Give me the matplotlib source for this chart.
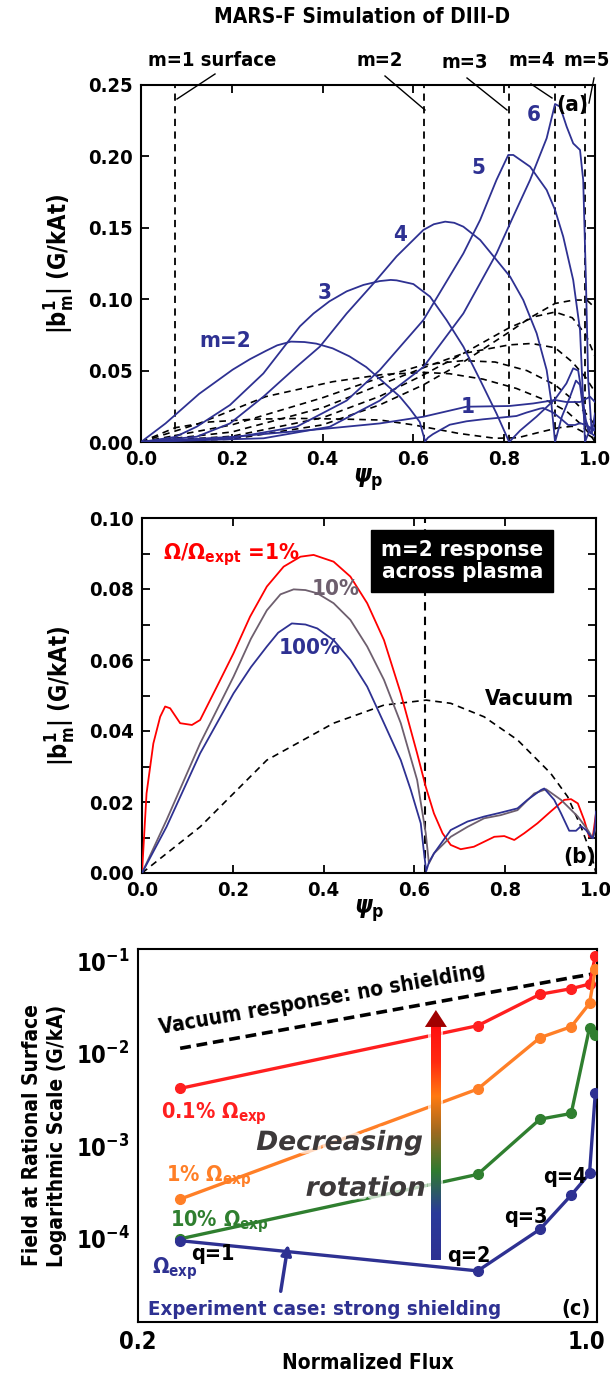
import numpy as np
import matplotlib
matplotlib.use('Agg')
import matplotlib.pyplot as plt
import matplotlib.patheffects as pe
from matplotlib.lines import Line2D
from matplotlib.colors import LinearSegmentedColormap
from matplotlib.transforms import ScaledTranslation

plt.rcParams['font.family'] = ['DejaVu Sans']
plt.rcParams['font.stretch'] = 'condensed'
plt.rcParams['font.weight'] = 'bold'
plt.rcParams['axes.labelweight'] = 'bold'
plt.rcParams['mathtext.fontset'] = 'custom'
plt.rcParams['mathtext.rm'] = 'DejaVu Sans:weight=bold:stretch=condensed'
plt.rcParams['mathtext.it'] = 'DejaVu Sans:style=italic:weight=bold:stretch=condensed'
plt.rcParams['mathtext.bf'] = 'DejaVu Sans:weight=bold:stretch=condensed'
plt.rcParams['axes.linewidth'] = 1.5

# ---------------- data: panel (a), plasma response per m (blue) ----------------
m1_x = [0, 0.196, 0.416, 0.526, 0.622, 0.717, 0.811, 0.864, 0.912, 0.937, 0.967, 0.989, 1.0]
m1_y = [0, 0.0035, 0.0096, 0.013, 0.0177, 0.0247, 0.0252, 0.027, 0.0294, 0.028, 0.028, 0.0317, 0.028]

m3_x = [0, 0.075, 0.1226, 0.196, 0.2695, 0.3208, 0.35, 0.38, 0.415, 0.453, 0.49, 0.526, 0.55, 0.563,
        0.6, 0.6366, 0.673, 0.71, 0.747, 0.783, 0.811, 0.835, 0.871, 0.912, 0.937, 0.952, 0.963,
        0.97, 0.98, 0.99, 1.0]
m3_y = [0, 0.0035, 0.0107, 0.0259, 0.048, 0.069, 0.081, 0.090, 0.0985, 0.1055, 0.110, 0.1127,
        0.1135, 0.1132, 0.1106, 0.1018, 0.0854, 0.0668, 0.0434, 0.020, 0, 0.008, 0.0177, 0.030,
        0.041, 0.0516, 0.050, 0.036, 0.015, 0.006, 0.010]

m4_x = [0, 0.1226, 0.196, 0.2695, 0.343, 0.394, 0.453, 0.512, 0.563, 0.622, 0.645, 0.67, 0.69, 0.71,
        0.747, 0.783, 0.813, 0.842, 0.8715, 0.8935, 0.903, 0.912, 0.927, 0.945, 0.958, 0.967, 0.975,
        0.985, 1.0]
m4_y = [0, 0.0037, 0.013, 0.0317, 0.0528, 0.0668, 0.090, 0.111, 0.130, 0.1485, 0.1525, 0.1543,
        0.1535, 0.1508, 0.1415, 0.1275, 0.1158, 0.0994, 0.0761, 0.0504, 0.030, 0, 0.0177, 0.0317,
        0.043, 0.040, 0.020, 0.008, 0.004]

m5_x = [0, 0.196, 0.343, 0.453, 0.526, 0.622, 0.71, 0.747, 0.783, 0.809, 0.82, 0.857, 0.8935,
        0.912, 0.93, 0.952, 0.967, 0.978, 0.99, 1.0]
m5_y = [0, 0.0026, 0.0107, 0.029, 0.0504, 0.0854, 0.132, 0.1555, 0.1835, 0.201, 0.201, 0.1928,
        0.1765, 0.1625, 0.1438, 0.1134, 0.0784, 0, 0.010, 0.008]

m6_x = [0, 0.27, 0.416, 0.526, 0.622, 0.71, 0.783, 0.82, 0.857, 0.8935, 0.912, 0.923, 0.9376,
        0.952, 0.967, 0.974, 0.98, 0.985, 0.993, 1.0]
m6_y = [0, 0.0026, 0.0107, 0.029, 0.0525, 0.090, 0.132, 0.158, 0.1835, 0.2127, 0.2367, 0.2348,
        0.2208, 0.2091, 0.2045, 0.1835, 0.1134, 0.0434, 0.006, 0.020]

# panel (a), vacuum field per m (black dashed)
v1_x = [0, 0.075, 0.15, 0.25, 0.35, 0.45, 0.526, 0.6, 0.7, 0.78, 0.83, 0.88, 0.92, 0.95, 0.98, 1.0]
v1_y = [0, 0.010, 0.014, 0.016, 0.0165, 0.016, 0.0154, 0.012, 0.006, 0.0026, 0.003, 0.007, 0.010,
        0.011, 0.006, 0.002]
v3_x = [0, 0.2, 0.4, 0.526, 0.622, 0.71, 0.78, 0.85, 0.912, 0.95, 0.98, 1.0]
v3_y = [0, 0.012, 0.031, 0.045, 0.054, 0.057, 0.056, 0.050, 0.040, 0.030, 0.020, 0.012]
v4_x = [0, 0.2, 0.4, 0.526, 0.622, 0.71, 0.811, 0.86, 0.912, 0.95, 0.98, 1.0]
v4_y = [0, 0.007, 0.024, 0.040, 0.052, 0.062, 0.068, 0.069, 0.066, 0.056, 0.045, 0.035]
v5_x = [0, 0.2, 0.4, 0.526, 0.622, 0.71, 0.811, 0.87, 0.912, 0.95, 0.98, 1.0]
v5_y = [0, 0.004, 0.017, 0.032, 0.047, 0.062, 0.080, 0.088, 0.091, 0.087, 0.075, 0.060]
v6_x = [0, 0.2, 0.4, 0.526, 0.622, 0.71, 0.811, 0.857, 0.912, 0.953, 0.982, 1.0]
v6_y = [0, 0.002, 0.012, 0.026, 0.040, 0.056, 0.077, 0.087, 0.097, 0.0994, 0.0994, 0.094]

# rational surfaces
surf_psi = [0.075, 0.624, 0.811, 0.912, 0.979]
surf_lbl = ['m=1 surface', 'm=2', 'm=3', 'm=4', 'm=5']

# ---------------- data: panel (b), m=2 response vs rotation ----------------
b100_x = [0, 0.054, 0.128, 0.2016, 0.24, 0.275, 0.30, 0.33, 0.36, 0.386, 0.422, 0.459, 0.496, 0.533,
          0.57, 0.592, 0.614, 0.62, 0.626, 0.632, 0.643, 0.68, 0.717, 0.7535, 0.79, 0.827, 0.849,
          0.879, 0.886, 0.908, 0.923, 0.941, 0.956, 0.967, 0.978, 0.989, 0.993, 0.998, 1.0]
b100_y = [0, 0.013, 0.0337, 0.0506, 0.058, 0.0638, 0.0677, 0.0703, 0.070, 0.0689, 0.0656, 0.060,
          0.0525, 0.0422, 0.0318, 0.0234, 0.014, 0.007, 0.0005, 0.003, 0.0055, 0.0121, 0.0145,
          0.0159, 0.017, 0.0182, 0.0206, 0.0234, 0.0238, 0.0206, 0.0168, 0.0119, 0.0119, 0.0132,
          0.0121, 0.0102, 0.0098, 0.013, 0.0173]

b10_x = [0, 0.054, 0.128, 0.2016, 0.24, 0.275, 0.305, 0.334, 0.36, 0.386, 0.422, 0.459, 0.496,
         0.533, 0.57, 0.606, 0.625, 0.632, 0.643, 0.68, 0.717, 0.7535, 0.79, 0.827, 0.864, 0.89,
         0.923, 0.96, 0.982, 0.993, 1.0]
b10_y = [0, 0.0149, 0.0365, 0.0553, 0.066, 0.074, 0.0785, 0.0799, 0.0797, 0.0788, 0.076, 0.0713,
         0.0638, 0.0544, 0.0422, 0.0262, 0.0112, 0.0027, 0.0055, 0.0102, 0.013, 0.0154, 0.0163,
         0.0177, 0.0224, 0.0236, 0.0206, 0.0159, 0.0121, 0.0098, 0.013]

b1_x = [0, 0.01, 0.025, 0.04, 0.051, 0.062, 0.084, 0.11, 0.128, 0.165, 0.2016, 0.238, 0.275, 0.312,
        0.349, 0.378, 0.422, 0.459, 0.496, 0.533, 0.57, 0.606, 0.625, 0.643, 0.662, 0.68, 0.702,
        0.731, 0.7535, 0.776, 0.798, 0.82, 0.842, 0.871, 0.90, 0.93, 0.945, 0.96, 0.974, 0.985,
        0.993, 1.0]
b1_y = [0, 0.0224, 0.0365, 0.044, 0.0469, 0.0464, 0.0422, 0.0417, 0.0431, 0.0525, 0.0619, 0.0722,
        0.0807, 0.0863, 0.0891, 0.0896, 0.0877, 0.0835, 0.076, 0.0656, 0.0506, 0.0337, 0.0243,
        0.0168, 0.0112, 0.0079, 0.0067, 0.0074, 0.0088, 0.0102, 0.0104, 0.0093, 0.0112, 0.014,
        0.0173, 0.0206, 0.0208, 0.0196, 0.0149, 0.0102, 0.0102, 0.0168]

vac_x = [0, 0.128, 0.275, 0.422, 0.533, 0.626, 0.68, 0.7535, 0.827, 0.90, 0.9375, 0.967, 0.989, 1.0]
vac_y = [0, 0.013, 0.0318, 0.0422, 0.0473, 0.0487, 0.0478, 0.044, 0.0375, 0.0281, 0.0215, 0.013,
         0.0055, 0]

# ---------------- data: panel (c), field at rational surfaces ----------------
flux = [0.2735, 0.792, 0.9007, 0.955, 0.987, 0.997]
f_01 = [4.24e-3, 0.0202, 0.0442, 0.0508, 0.057, 0.115]
f_1 = [2.69e-4, 4.17e-3, 0.015, 0.0197, 0.0352, 0.082]
f_10 = [1.0e-4, 4.98e-4, 1.97e-3, 2.27e-3, 0.0192, 0.016]
f_100 = [9.55e-5, 4.5e-5, 1.27e-4, 2.97e-4, 5.1e-4, 3.75e-3]
vac_flux = [0.2735, 0.792, 0.9007, 0.955, 0.987, 1.0]
vac_c = [0.0115, 0.0438, 0.058, 0.0668, 0.0722, 0.0757]

navy = '#2e3192'
W, H = 610, 1374
fig = plt.figure(figsize=(W / 100, H / 100), dpi=100)


def rect(x0, y0, x1, y1):
    return [x0 / W, 1 - y1 / H, (x1 - x0) / W, (y1 - y0) / H]


TL = 14.5  # tick label size, panels (a) and (b)

# ======================= panel (a) =======================
ax1 = fig.add_axes(rect(141, 85, 595, 442))
for xs, ys in [(m1_x, m1_y), (b100_x, b100_y), (m3_x, m3_y), (m4_x, m4_y), (m5_x, m5_y), (m6_x, m6_y)]:
    ax1.plot(xs, ys, color=navy, lw=1.3, zorder=3)
for xs, ys in [(v1_x, v1_y), (vac_x, vac_y), (v3_x, v3_y), (v4_x, v4_y), (v5_x, v5_y), (v6_x, v6_y)]:
    ax1.plot(xs, ys, color='k', lw=1.2, ls=(0, (4, 3)), zorder=2)
for p in surf_psi:
    ax1.axvline(p, color='k', lw=1.3, ls=(0, (4, 3)), zorder=2)
ax1.set_xlim(0, 1)
ax1.set_ylim(0, 0.25)
ax1.set_xticks(np.arange(0, 1.01, 0.2))
ax1.set_yticks(np.arange(0, 0.251, 0.05))
ax1.set_xticklabels(['%.1f' % v for v in np.arange(0, 1.01, 0.2)])
ax1.set_yticklabels(['%.2f' % v for v in np.arange(0, 0.251, 0.05)])
ax1.tick_params(direction='in', top=True, right=True, length=6, width=1.3, labelsize=TL, pad=6)
ax1.set_xlabel(r'$\psi_{\rm p}$', fontsize=18, labelpad=-2)
ax1.set_ylabel(r'$|\mathrm{b}^{1}_{\mathrm{m}}|$ (G/kAt)', fontsize=17, labelpad=8)
tk = dict(color=navy, fontsize=16, ha='center', va='center')
ax1.text(0.185, 0.071, 'm=2', **tk)
ax1.text(0.405, 0.104, '3', **tk)
ax1.text(0.57, 0.145, '4', **tk)
ax1.text(0.743, 0.1916, '5', **tk)
ax1.text(0.864, 0.229, '6', **tk)
ax1.text(0.719, 0.0247, '1', **tk)
ax1.text(0.949, 0.236, '(a)', fontsize=16, ha='center', va='center')

# surface labels with leader lines above panel (a)
lbl_pos = [(212, 60), (380, 60), (465, 63), (532, 60), (587, 60)]
lead = [((215, 74), (177, 99)), ((385, 76), (425, 110)), ((467, 78), (507, 110)),
        ((531, 84), (552, 98)), ((594, 78), (589, 103))]
for t, (tx, ty), ((x0, y0), (x1, y1)) in zip(surf_lbl, lbl_pos, lead):
    fig.text(tx / W, 1 - ty / H, t, fontsize=14.5, ha='center', va='center')
    fig.add_artist(Line2D([x0 / W, x1 / W], [1 - y0 / H, 1 - y1 / H], color='k', lw=1.0))
fig.text(362 / W, 1 - 17 / H, 'MARS-F Simulation of DIII-D', fontsize=15, ha='center', va='center')

# ======================= panel (b) =======================
ax2 = fig.add_axes(rect(142, 518, 596, 873))
ax2.plot(vac_x, vac_y, color='k', lw=1.2, ls=(0, (4, 3)), zorder=2)
ax2.plot(b1_x, b1_y, color='#ff0000', lw=1.3, zorder=3)
ax2.plot(b10_x, b10_y, color='#6e5f6e', lw=1.3, zorder=3)
ax2.plot(b100_x, b100_y, color=navy, lw=1.3, zorder=4)
ax2.axvline(surf_psi[1], color='k', lw=1.5, ls=(0, (4, 3)), zorder=2)
ax2.set_xlim(0, 1)
ax2.set_ylim(0, 0.1)
ax2.set_xticks(np.arange(0, 1.01, 0.2))
ax2.set_xticklabels(['%.1f' % v for v in np.arange(0, 1.01, 0.2)])
ax2.set_yticks(np.arange(0, 0.101, 0.02))
ax2.set_yticklabels(['%.2f' % v for v in np.arange(0, 0.101, 0.02)])
ax2.set_yticks(np.arange(0, 0.101, 0.01), minor=True)
ax2.tick_params(which='both', direction='in', top=True, right=True, length=6, width=1.3,
                labelsize=TL, pad=6)
ax2.set_xlabel(r'$\psi_{\rm p}$', fontsize=18, labelpad=-2)
ax2.set_ylabel(r'$|\mathrm{b}^{1}_{\mathrm{m}}|$ (G/kAt)', fontsize=17, labelpad=8)
ax2.text(0.046, 0.0896, r'$\Omega/\Omega_{\rm expt}$ =1%', color='#ff0000', fontsize=16,
         ha='left', va='center')
ax2.text(0.426, 0.080, '10%', color='#6e5f6e', fontsize=16, ha='center', va='center')
ax2.text(0.37, 0.0634, '100%', color=navy, fontsize=16, ha='center', va='center')
ax2.text(0.854, 0.049, 'Vacuum', fontsize=16, ha='center', va='center')
ax2.text(0.965, 0.0045, '(b)', fontsize=16, ha='center', va='center')
ax2.text(0.7056, 0.0879, 'm=2 response\nacross plasma', color='white', fontsize=16,
         ha='center', va='center', linespacing=1.15, zorder=6,
         bbox=dict(boxstyle='square,pad=0.45', fc='black', ec='black'))

# ======================= panel (c) =======================
ax3 = fig.add_axes(rect(138, 949, 597, 1322))
ax3.set_yscale('log')
ax3.plot(vac_flux, vac_c, color='k', lw=2.6, ls=(0, (3, 1.6)), zorder=3)
for ys, c in [(f_01, '#ff1f1f'), (f_1, '#ff7f27'), (f_10, '#2f7f2f'), (f_100, navy)]:
    ax3.plot(flux, ys, color=c, lw=2.4, marker='o', ms=7, zorder=3)
ax3.set_xlim(0.2, 1.0)
ax3.set_ylim(1.26e-5, 0.1365)
ax3.set_xticks([0.2, 1.0])
ax3.set_xticklabels(['0.2', '1.0'])
ax3.set_yticks([1e-4, 1e-3, 1e-2, 1e-1])
ax3.set_yticks([], minor=True)
ax3.tick_params(length=0, labelsize=17, pad=6)
xl = ax3.get_xticklabels()
xl[-1].set_horizontalalignment('right')
xl[-1].set_transform(xl[-1].get_transform() + ScaledTranslation(8 / 100, 0, fig.dpi_scale_trans))
ax3.set_xlabel('Normalized Flux', fontsize=15, labelpad=-1)
ax3.set_ylabel('Field at Rational Surface\nLogarithmic Scale (G/kA)', fontsize=15, labelpad=6,
               linespacing=1.35)

# gradient arrow "Decreasing rotation"
cmap = LinearSegmentedColormap.from_list('rot', [(0, navy), (0.2, '#2a3a9a'), (0.38, '#2f7a30'),
                                                 (0.55, '#a06a20'), (0.7, '#ff7a10'),
                                                 (0.85, '#ff2a10'), (1, '#ff1010')])
grad = np.linspace(0, 1, 256).reshape(-1, 1)
ax3.add_patch(plt.Rectangle((0.632, 0.166), 0.032, 0.625, transform=ax3.transAxes,
                            fc='white', ec='none', alpha=0.7, zorder=4))
ax3.imshow(grad, cmap=cmap, origin='lower', aspect='auto', transform=ax3.transAxes,
           extent=(0.638, 0.658, 0.166, 0.791), zorder=5)
ax3.add_patch(plt.Polygon([(0.625, 0.791), (0.673, 0.791), (0.649, 0.8365)], closed=True,
                          transform=ax3.transAxes, fc='#a00000', ec='none', zorder=5))
halo = [pe.withStroke(linewidth=5, foreground='white', alpha=0.7)]
ax3.text(0.439, 0.48, 'Decreasing', transform=ax3.transAxes, fontsize=19, color='#3d393a',
         fontstretch='normal', fontweight='bold', style='italic', ha='center', va='center',
         zorder=6, path_effects=halo)
ax3.text(0.496, 0.357, 'rotation', transform=ax3.transAxes, fontsize=19, color='#3d393a',
         fontstretch='normal', fontweight='bold', style='italic', ha='center', va='center',
         zorder=6, path_effects=halo)

ax3.text(0.401, 0.865, 'Vacuum response: no shielding', transform=ax3.transAxes, fontsize=15,
         rotation=10, ha='center', va='center', rotation_mode='anchor')
tc = dict(transform=ax3.transAxes, fontsize=15.5, ha='left', va='baseline')
ax3.text(0.050, 0.547, r'0.1% $\Omega_{\rm exp}$', color='#ff1f1f', **tc)
ax3.text(0.062, 0.376, r'1% $\Omega_{\rm exp}$', color='#ff7f27', **tc)
ax3.text(0.070, 0.2555, r'10% $\Omega_{\rm exp}$', color='#2f7f2f', **tc)
ax3.text(0.0305, 0.131, r'$\Omega_{\rm exp}$', color=navy, **tc)
ax3.text(0.1155, 0.165, 'q=1', **tc)
ax3.text(0.673, 0.1617, 'q=2', **tc)
ax3.text(0.797, 0.266, 'q=3', **tc)
ax3.text(0.882, 0.373, 'q=4', **tc)
ax3.text(0.987, 0.019, '(c)', transform=ax3.transAxes, fontsize=15.5, ha='right', va='baseline')
ax3.text(0.0218, 0.018, 'Experiment case: strong shielding', color=navy,
         **{**tc, 'fontsize': 14.7})
ax3.annotate('', xy=(0.328, 0.215), xytext=(0.310, 0.075), xycoords='axes fraction',
             textcoords='axes fraction',
             arrowprops=dict(arrowstyle='-|>,head_length=0.6,head_width=0.3', color=navy, lw=2.5))

fig.savefig('out.png', dpi=100)
